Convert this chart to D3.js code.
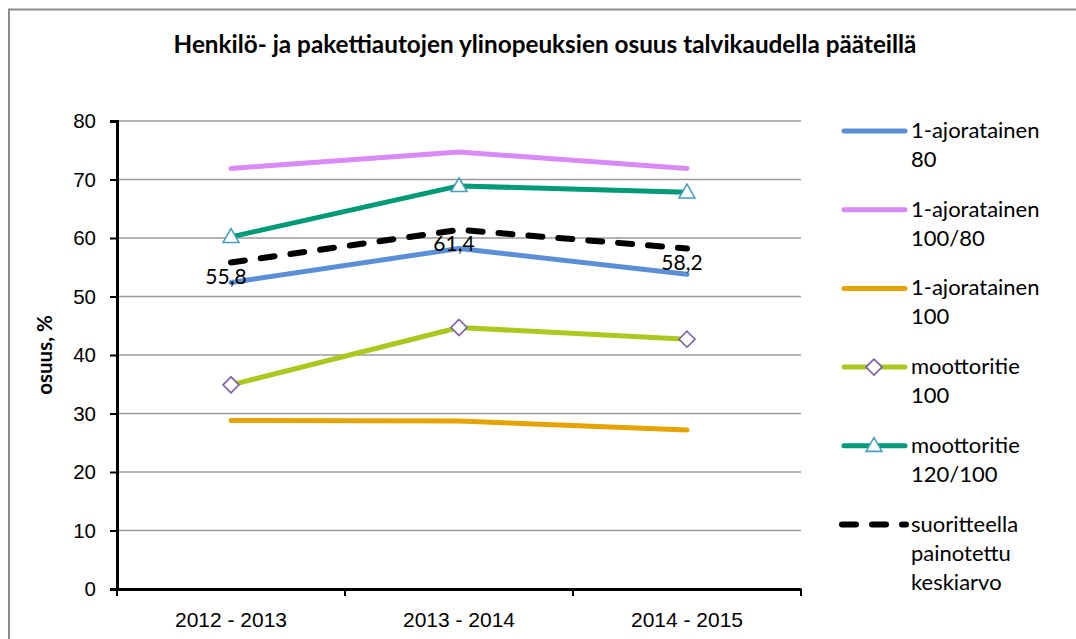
<!DOCTYPE html>
<html>
<head>
<meta charset="utf-8">
<script src="https://cdn.jsdelivr.net/npm/d3@7"></script>
<style>
  body { margin: 0; background: #fff; }
  svg { display: block; font-family: Lato, "Open Sans", sans-serif; }
</style>
</head>
<body>
<div id="chart"></div>
<script>
'use strict';

var categories = ["2012 - 2013", "2013 - 2014", "2014 - 2015"];
var yTicks = [0, 10, 20, 30, 40, 50, 60, 70, 80];

var seriesNames = [
    ["1-ajoratainen", "80"],
    ["1-ajoratainen", "100/80"],
    ["1-ajoratainen", "100"],
    ["moottoritie", "100"],
    ["moottoritie", "120/100"],
    ["suoritteella", "painotettu", "keskiarvo"]
];
var ajorata80 = [52.4, 58.2, 53.8];
var ajorata100_80 = [71.9, 74.7, 71.9];
var ajorata100 = [28.8, 28.7, 27.2];
var moottoritie100 = [34.9, 44.7, 42.7];
var moottoritie120_100 = [60.2, 68.9, 67.8];
var keskiarvo = [55.8, 61.4, 58.2];
var keskiarvoLabels = ["55,8", "61,4", "58,2"];

var colors = ["#5a8fd6", "#d98af7", "#e6a300", "#aac81e", "#009a78", "#000"];

var series = [ajorata80, ajorata100_80, ajorata100, moottoritie100, moottoritie120_100, keskiarvo]
    .map(function (vals, i) { return { name: seriesNames[i], values: vals, color: colors[i], idx: i }; });

var W = 1076, H = 639;
var plotL = 117, plotR = 801, plotT = 121, plotB = 589;

var svg = d3.select("#chart").append("svg").attr("width", W).attr("height", H);

// outer frame
svg.append("path").attr("d", "M9,639 V9.5 H1076").attr("fill", "none")
    .attr("stroke", "#8c8c8c").attr("stroke-width", 2);

svg.append("text").attr("x", 545).attr("y", 53).attr("text-anchor", "middle")
    .attr("font-weight", "bold").attr("font-size", 24.3)
    .text("Henkilö- ja pakettiautojen ylinopeuksien osuus talvikaudella pääteillä");

var x = d3.scaleBand().domain(categories).range([plotL, plotR]);
var y = d3.scaleLinear().domain([0, 80]).range([plotB, plotT]);
function cx(d, i) { return x(categories[i]) + x.bandwidth() / 2; }

// gridlines
svg.append("g").selectAll("line").data(yTicks.filter(function (t) { return t > 0; }))
    .enter().append("line")
    .attr("x1", plotL).attr("x2", plotR)
    .attr("y1", function (d) { return y(d); }).attr("y2", function (d) { return y(d); })
    .attr("stroke", "#9a9a9a").attr("stroke-width", 1.5);

// y axis
var yAxis = svg.append("g").attr("transform", "translate(" + plotL + ",0)")
    .call(d3.axisLeft(y).tickValues(yTicks).tickSize(7).tickPadding(14));
yAxis.select(".domain").attr("stroke", "#000").attr("stroke-width", 3);
yAxis.selectAll(".tick line").attr("stroke", "#000").attr("stroke-width", 2);
yAxis.selectAll("text").attr("font-size", 20.5).attr("fill", "#000").attr("font-family", null);

// x axis
var xAxis = svg.append("g").attr("transform", "translate(0," + plotB + ")")
    .call(d3.axisBottom(x).tickSize(0).tickPadding(23));
xAxis.select(".domain").attr("stroke", "#000").attr("stroke-width", 3);
xAxis.selectAll("text").attr("font-size", 21).attr("fill", "#000").attr("font-family", null);
xAxis.selectAll(".edge").data(categories.map(function (c) { return x(c); }).concat([plotR]))
    .enter().append("line").attr("class", "edge")
    .attr("x1", function (d) { return d; }).attr("x2", function (d) { return d; })
    .attr("y1", 0).attr("y2", 7).attr("stroke", "#000").attr("stroke-width", 2);

svg.append("text").attr("transform", "translate(52,355) rotate(-90)")
    .attr("text-anchor", "middle").attr("font-weight", "bold").attr("font-size", 20.5)
    .text("osuus, %");

var line = d3.line().x(cx).y(function (d) { return y(d); });

function triangle(g, px, py) {
    g.append("path").attr("d", d3.symbol(d3.symbolTriangle, 110)())
        .attr("transform", "translate(" + px + "," + (py + 1) + ")")
        .attr("fill", "#fff").attr("stroke", "#4a9fbd").attr("stroke-width", 1.6);
}
function diamond(g, px, py) {
    g.append("path").attr("d", "M0,-8L8,0L0,8L-8,0Z")
        .attr("transform", "translate(" + px + "," + py + ")")
        .attr("fill", "#fff").attr("stroke", "#7a5ea6").attr("stroke-width", 1.6);
}

var lines = svg.append("g");
series.forEach(function (s) {
    var p = lines.append("path").datum(s.values).attr("d", line)
        .attr("fill", "none").attr("stroke", s.color).attr("stroke-width", s.idx === 5 ? 6 : 5)
        .attr("stroke-linecap", "round").attr("stroke-linejoin", "round");
    if (s.idx === 5) p.attr("stroke-dasharray", "14,16");
});
series.forEach(function (s) {
    s.values.forEach(function (v, i) {
        if (s.idx === 3) diamond(lines, cx(v, i), y(v));
        if (s.idx === 4) triangle(lines, cx(v, i), y(v));
    });
});

// data labels for the weighted average
svg.append("g").selectAll("text").data(keskiarvo).enter().append("text")
    .attr("x", function (d, i) { return cx(d, i) - 5; })
    .attr("y", function (d) { return y(d) + 21; })
    .attr("text-anchor", "middle").attr("font-size", 21)
    .text(function (d, i) { return keskiarvoLabels[i]; });

// legend
var legend = svg.append("g");
series.forEach(function (s, i) {
    var ly = 131 + i * 78.7;
    var g = legend.append("g");
    var l = g.append("line").attr("x1", 844).attr("x2", 905).attr("y1", ly).attr("y2", ly)
        .attr("stroke", s.color).attr("stroke-width", i === 5 ? 6 : 5).attr("stroke-linecap", "round");
    if (i === 5) l.attr("stroke-dasharray", "14,16").attr("x1", 842).attr("x2", 906);
    if (i === 3) diamond(g, 874, ly);
    if (i === 4) triangle(g, 874, ly);
    s.name.forEach(function (t, j) {
        g.append("text").attr("x", 911).attr("y", ly + 7 + j * 29).attr("font-size", 22).text(t);
    });
});
</script>
</body>
</html>
